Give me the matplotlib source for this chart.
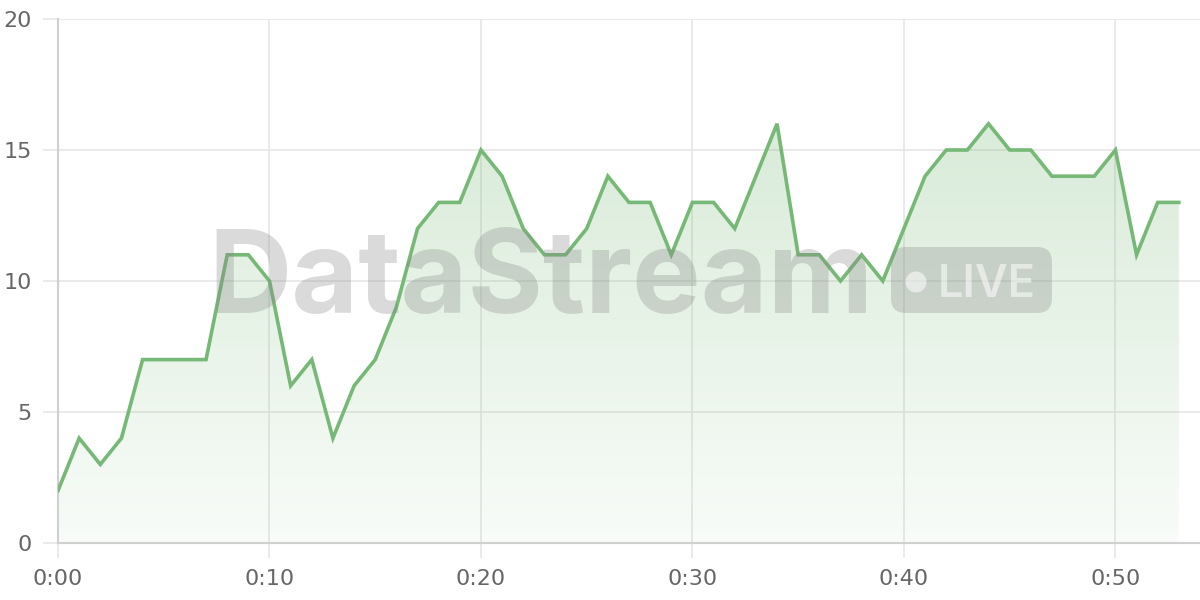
import matplotlib
matplotlib.use("Agg")
import matplotlib.pyplot as plt
import numpy as np
from matplotlib.patches import FancyBboxPatch, Circle
from matplotlib.colors import LinearSegmentedColormap

minutes = list(range(54))
values = [2, 4, 3, 4, 7, 7, 7, 7, 11, 11, 10, 6, 7, 4, 6, 7, 9, 12, 13, 13,
          15, 14, 12, 11, 11, 12, 14, 13, 13, 11, 13, 13, 12, 14, 16, 11, 11, 10, 11, 10,
          12, 14, 15, 15, 16, 15, 15, 14, 14, 14, 15, 11, 13, 13]
x_ticks = [0, 10, 20, 30, 40, 50]
x_labels = ["0:00", "0:10", "0:20", "0:30", "0:40", "0:50"]
y_ticks = [0, 5, 10, 15, 20]

line_color = "#76b876"
W, H = 1200, 600
fig = plt.figure(figsize=(12, 6), dpi=100)
ax = fig.add_axes([58 / W, 57 / H, (W - 58) / W, (543 - 19) / H])

ax.set_xlim(0, 54)
ax.set_ylim(0, 20)

# gradient fill
poly = ax.fill_between(minutes, values, 0, color="none", lw=0)
cmap = LinearSegmentedColormap.from_list(
    "g", [(0.463, 0.722, 0.463, 0.05), (0.463, 0.722, 0.463, 0.28)])
grad = np.linspace(0, 1, 256).reshape(-1, 1)
ymax = max(values)
im = ax.imshow(grad, cmap=cmap, aspect="auto", origin="lower",
               extent=[0, minutes[-1], 0, ymax], zorder=1)
path = poly.get_paths()[0]
im.set_clip_path(path, transform=ax.transData)

ax.plot(minutes, values, color=line_color, lw=2.6, zorder=4,
        solid_joinstyle="miter")

# grid and axes styling
ax.set_xticks(x_ticks)
ax.set_xticklabels(x_labels)
ax.set_yticks(y_ticks)
ax.grid(True, color="#e6e6e6", lw=1.2, zorder=0)
ax.set_axisbelow(True)
for s in ["top", "right"]:
    ax.spines[s].set_visible(False)
for s in ["left", "bottom"]:
    ax.spines[s].set_color("#d0d0d0")
    ax.spines[s].set_linewidth(1.5)
ax.tick_params(axis="both", length=11, width=1.2, color="#e6e6e6",
               labelsize=16, labelcolor="#666666", pad=8)

# watermark
wm_color = (0.53, 0.53, 0.53, 0.30)
fig.text(208 / W, 1 - 313 / H, "DataStream", fontfamily="Inter",
         fontweight="bold", fontsize=83, color=wm_color,
         ha="left", va="baseline", zorder=3)
box = FancyBboxPatch((891 + 15, H - 313 + 15), 161 - 30, 66 - 30,
                     boxstyle="round,pad=15", transform=None,
                     fc=wm_color, ec="none", zorder=3)
fig.patches.append(box)
dot = Circle((916, H - 282), 10.5, transform=None,
             fc=(1, 1, 1, 0.55), ec="none", zorder=3)
fig.patches.append(dot)
fig.text(938 / W, 1 - 297 / H, "LIVE", fontfamily="Inter",
         fontweight="semibold", fontsize=32.5, color=(1, 1, 1, 0.55),
         ha="left", va="baseline", zorder=3)

fig.savefig("out.png", dpi=100)
